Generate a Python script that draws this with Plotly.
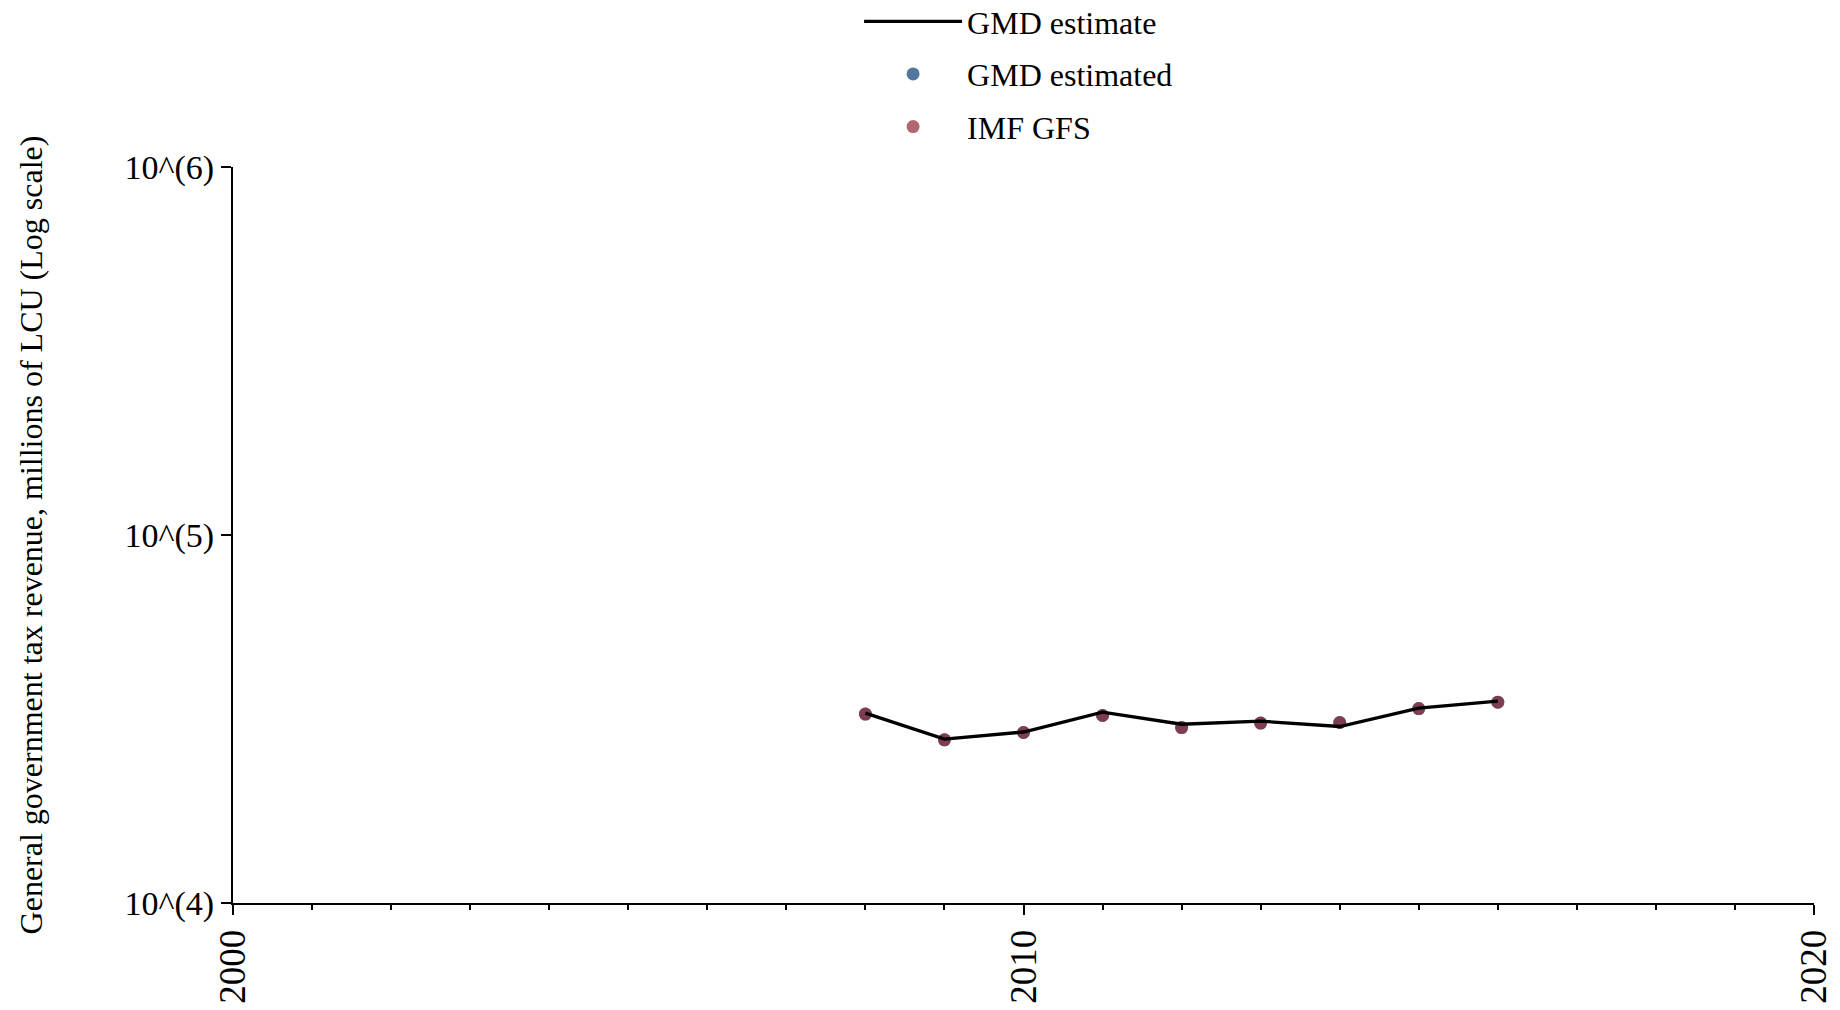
import plotly.graph_objects as go

years = [2008, 2009, 2010, 2011, 2012, 2013, 2014, 2015, 2016]
gmd_estimate = [32800, 27900, 29150, 33020, 30600, 31200, 30170, 33840, 35360]
gmd_estimated = [32610, 27760, 29060, 32320, 29980, 30820, 30940, 33760, 35140]
imf_gfs = [32610, 27760, 29060, 32320, 29980, 30820, 30940, 33760, 35140]

y_tickvals = [1e4, 1e5, 1e6]
y_ticktext = ["10^(4)", "10^(5)", "10^(6)"]

FONT = "Liberation Serif, Times New Roman, serif"

fig = go.Figure()
fig.add_trace(go.Scatter(
    x=years, y=gmd_estimated, mode="markers", name="GMD estimated",
    marker=dict(color="rgb(50,95,140)", size=13, opacity=0.85),
    legendrank=2, legendgroup="b"))
fig.add_trace(go.Scatter(
    x=years, y=imf_gfs, mode="markers", name="IMF GFS",
    marker=dict(color="rgb(145,37,50)", size=13, opacity=0.7),
    legendrank=3, legendgroup="c"))
fig.add_trace(go.Scatter(
    x=years, y=gmd_estimate, mode="lines", name="GMD estimate",
    line=dict(color="black", width=3.3),
    legendrank=1, legendgroup="a"))

fig.update_layout(
    width=1840, height=1010,
    paper_bgcolor="white", plot_bgcolor="white",
    font=dict(family=FONT, size=32, color="black"),
    margin=dict(l=225, r=34, t=159, b=115, autoexpand=False),
    showlegend=True,
    legend=dict(x=0.396, xanchor="left", y=1.235, yanchor="top",
                bgcolor="rgba(0,0,0,0)", tracegroupgap=8,
                font=dict(family=FONT, size=32), itemwidth=98),
    xaxis=dict(range=[2000, 2020], dtick=10, tick0=2000, tickangle=-90,
               showgrid=False, zeroline=False, showline=True, linecolor="black",
               linewidth=2, ticks="outside", ticklen=10, tickwidth=2, tickcolor="black",
               automargin=False,
               minor=dict(dtick=1, ticks="outside", ticklen=5, tickwidth=2, tickcolor="black", showgrid=False),
               tickfont=dict(family=FONT, size=37)),
    yaxis=dict(type="log", range=[4, 6], tickvals=y_tickvals, ticktext=y_ticktext,
               showgrid=False, zeroline=False, showline=True, linecolor="black",
               linewidth=2, ticks="outside", ticklen=10, tickwidth=2, tickcolor="black",
               automargin=False,
               tickfont=dict(family=FONT, size=34),
               title=dict(text="General government tax revenue, millions of LCU (Log scale)",
                          font=dict(family=FONT, size=32), standoff=72)),
)

fig.write_html("out.html")
